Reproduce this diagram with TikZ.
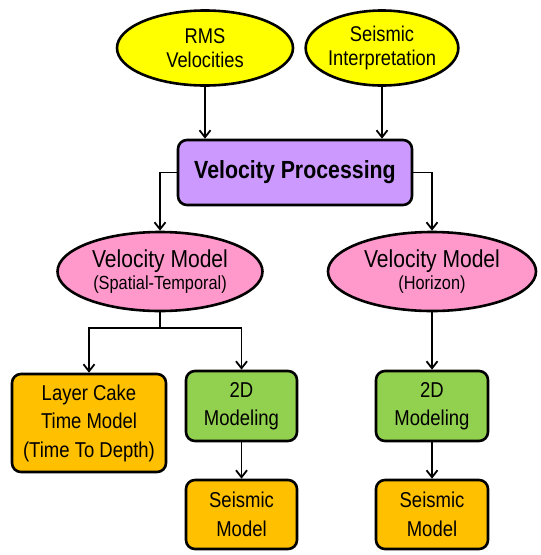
\documentclass[tikz,border=0pt]{standalone}
\usepackage{fontspec}
\setmainfont[FakeStretch=0.86]{Liberation Sans}
\usetikzlibrary{shapes.geometric,arrows.meta}
\definecolor{cyel}{HTML}{FFFF00}
\definecolor{cvio}{HTML}{CC99FF}
\definecolor{cpink}{HTML}{FF99CC}
\definecolor{corg}{HTML}{FFC000}
\definecolor{cgrn}{HTML}{92D050}
\tikzset{
  ell/.style={ellipse, draw=black, line width=2.6pt, inner sep=0pt, align=center},
  rbox/.style={rectangle, rounded corners=9pt, draw=black, line width=2.6pt, inner sep=0pt, align=center},
  txt/.style={font=\fontsize{21.3}{23.5}\selectfont},
  txtb/.style={font=\fontsize{21.5}{28.5}\selectfont},
  arr/.style={line width=1.8pt, -{Straight Barb[length=7pt,width=11pt,line width=1.8pt]}},
  ln/.style={line width=1.8pt},
}
\begin{document}
\begin{tikzpicture}[x=1pt,y=-1pt]
\useasboundingbox[fill=white] (0,0) rectangle (541,555);
\node[ell, fill=cyel, minimum width=176pt, minimum height=75pt, txt] (rms) at (205,48) {RMS\\Velocities};
\node[ell, fill=cyel, minimum width=142pt, minimum height=75pt, txt] (seis) at (382,48) {Seismic\\Interpretation};
\node[rbox, fill=cvio, minimum width=234pt, minimum height=65pt, font=\fontsize{24.8}{26}\selectfont\bfseries] (vp) at (295,172.5) {Velocity Processing};
\node[ell, fill=cpink, minimum width=205pt, minimum height=79pt, align=center] (vml) at (160,271.5) {\fontsize{24.5}{28}\selectfont Velocity Model\\[2pt]\fontsize{19}{28}\selectfont (Spatial-Temporal)};
\node[ell, fill=cpink, minimum width=208pt, minimum height=79pt, align=center] (vmr) at (432,271.5) {\fontsize{24.5}{28}\selectfont Velocity Model\\[2pt]\fontsize{19}{28}\selectfont (Horizon)};
\node[rbox, fill=corg, minimum width=154pt, minimum height=98pt, txtb] (lc) at (89,423) {Layer Cake\\Time Model\\(Time To Depth)};
\node[rbox, fill=cgrn, minimum width=111pt, minimum height=70pt, txtb] (m2l) at (241.5,406) {2D\\Modeling};
\node[rbox, fill=corg, minimum width=111pt, minimum height=69pt, txtb] (sml) at (241.5,514.5) {Seismic\\Model};
\node[rbox, fill=cgrn, minimum width=112pt, minimum height=70pt, txtb] (m2r) at (432,406) {2D\\Modeling};
\node[rbox, fill=corg, minimum width=112pt, minimum height=69pt, txtb] (smr) at (432,514.5) {Seismic\\Model};
\coordinate (j) at (160,328);
\draw[arr] (rms.south) -- (rms.south |- vp.north);
\draw[arr] (seis.south) -- (seis.south |- vp.north);
\draw[arr] (vp.west) -| (vml.north);
\draw[arr] (vp.east) -| (vmr.north);
\draw[ln] (vml.south) -- (j);
\draw[arr] (j) -| (lc.north);
\draw[arr] (j) -| (m2l.north);
\draw[arr] (vmr.south) -- (m2r.north);
\draw[arr] (m2l.south) -- (sml.north);
\draw[arr] (m2r.south) -- (smr.north);
\end{tikzpicture}
\end{document}
